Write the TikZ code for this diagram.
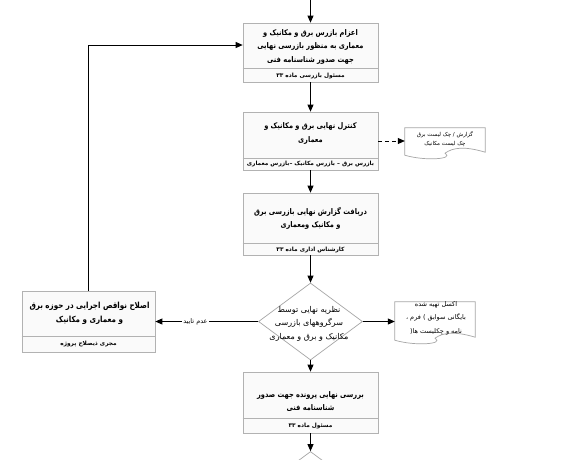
\documentclass[tikz,border=0pt]{standalone}
\usepackage{fontspec}
\usetikzlibrary{shapes.geometric,arrows.meta,calc}
\TeXXeTstate=1
\newfontfamily\fafont[Script=Arabic]{DejaVu Sans}
\newfontfamily\fanarrow[Script=Arabic, FakeStretch=0.85]{DejaVu Sans}
\newcommand\fal[1]{\beginR #1\endR}
\newcommand\ltrglyph[1]{\beginL #1\endL{}}
\begin{document}
\begin{tikzpicture}[x=1pt,y=-1pt,
  box/.style={draw=gray!60, fill=gray!4, line width=0.7pt, minimum width=135pt, inner sep=0pt},
  ttl/.style={font=\fanarrow\bfseries\fontsize{7.8}{13.5}\selectfont, align=center, inner sep=0pt},
  lbl/.style={font=\fafont\bfseries\fontsize{5.8}{7}\selectfont, inner sep=0pt},
  doclbl/.style={font=\fafont\fontsize{5.5}{8.4}\selectfont, align=center, inner sep=0pt},
  divider/.style={draw=gray!60, line width=0.7pt},
  arr/.style={-{Triangle[length=7pt,width=6pt]}, line width=0.8pt},
  docshape/.style={draw=gray!70, fill=white, line width=0.7pt},
  dia/.style={draw=gray!70, fill=white, line width=0.7pt, shape=diamond, minimum width=104pt, minimum height=77pt, inner sep=0pt}
]
\useasboundingbox (0,0) rectangle (567,459);
\clip (0,0) rectangle (567,459);
\fill[white] (0,0) rectangle (567,459);

% Box 1
\node[box, minimum height=59pt] (b1) at (310.5,52.5) {};
\draw[divider] (b1.west |- 0,68) -- (b1.east |- 0,68);
\node[ttl] (t1) at (310.5,46.5) {\fal{اعزام بازرس برق و مکانیک و}\\\fal{معماری به منظور بازرسی نهایی}\\\fal{جهت صدور شناسنامه فنی}};
\node[lbl] (l1) at (310.5,75.5) {\fal{مسئول بازرسی ماده ۳۳}};

% Box 2
\node[box, minimum height=58pt] (b2) at (310.5,141) {};
\draw[divider] (b2.west |- 0,158) -- (b2.east |- 0,158);
\node[ttl] (t2) at (310.5,133.5) {\fal{کنترل نهایی برق و مکانیک و}\\\fal{معماری}};
\node[lbl] (l2) at (310.5,164) {\fal{بازرس برق – بازرس مکانیک –بازرس معماری}};

% Document 1
\node[minimum width=80pt, minimum height=29pt, inner sep=0pt] (d1) at (445,142.5) {};
\draw[docshape] (d1.north west) -- (d1.north east) -- ($(d1.south east)+(0,-5)$)
  .. controls ($(d1.south east)+(-20,-11)$) and ($(d1.south east)+(-32,-10)$) .. ($(d1.south)+(0,-4)$)
  .. controls ($(d1.south)+(10,2)$) and ($(d1.south west)+(20,4)$) .. ($(d1.south west)+(0,-2)$) -- cycle;
\node[doclbl] (dt1) at (445,139) {\fal{گزارش / چک لیست برق}\\\fal{چک لیست مکانیک}};

% Box 3
\node[box, minimum height=62pt] (b3) at (310.5,224) {};
\draw[divider] (b3.west |- 0,243) -- (b3.east |- 0,243);
\node[ttl] (t3) at (310.5,218.5) {\fal{دریافت گزارش نهایی بازرسی برق}\\\fal{و مکانیک ومعماری}};
\node[lbl] (l3) at (310.5,249.5) {\fal{کارشناس اداری ماده ۳۳}};

% Decision
\node[dia] (dm) at (310.5,321.5) {};
\node[ttl, font=\fafont\fontsize{8}{13.5}\selectfont] (dmt) at (309,323.5) {\fal{نظریه نهایی توسط}\\\fal{سرگروههای بازرسی}\\\fal{مکانیک و برق و معماری}};

% Document 2
\node[minimum width=80pt, minimum height=40pt, inner sep=0pt] (d2) at (435,322) {};
\draw[docshape] (d2.north west) -- (d2.north east) -- ($(d2.south east)+(0,-5)$)
  .. controls ($(d2.south east)+(-20,-11)$) and ($(d2.south east)+(-32,-10)$) .. ($(d2.south)+(0,-4)$)
  .. controls ($(d2.south)+(10,2)$) and ($(d2.south west)+(20,4)$) .. ($(d2.south west)+(0,-2)$) -- cycle;
\node[doclbl, font=\fafont\fontsize{6.5}{13.5}\selectfont] (dt2) at (436,318) {\fal{اکسل تهیه شده}\\\fal{بایگانی سوابق \ltrglyph{)} فرم ،}\\\fal{نامه و چکلیست ها\ltrglyph{(}}};

% Left box
\node[box, minimum width=133pt, minimum height=61pt] (lb) at (88.5,321.5) {};
\draw[divider] (lb.west |- 0,336) -- (lb.east |- 0,336);
\node[ttl, font=\fanarrow\bfseries\fontsize{8.4}{13.5}\selectfont] (tl) at (89.5,313.5) {\fal{اصلاح نواقص اجرایی در حوزه برق}\\\fal{و معماری و مکانیک}};
\node[lbl] (ll) at (88.5,344) {\fal{مجری ذیصلاح پروژه}};

% Box 5
\node[box, minimum height=61pt] (b5) at (310.5,402.5) {};
\draw[divider] (b5.west |- 0,418) -- (b5.east |- 0,418);
\node[ttl] (t5) at (310.5,401.5) {\fal{بررسی نهایی پرونده جهت صدور}\\\fal{شناسنامه فنی}};
\node[lbl] (l5) at (310.5,426) {\fal{مسئول ماده ۳۳}};

% Next decision (cut off)
\node[dia] (dm2) at (310.5,490) {};

% Connectors
\coordinate (top) at (310.5,-2);
\coordinate (loopin) at (b1.west |- 0,45);
\draw[arr] (top) -- (b1.north);
\draw[arr] (b1.south) -- (b2.north);
\draw[arr] (b2.south) -- (b3.north);
\draw[arr] (b3.south) -- (dm.north);
\draw[arr] (dm.south) -- (b5.north);
\draw[arr] (b5.south) -- (dm2.north);
\draw[arr, dashed, dash pattern=on 4pt off 3pt] (b2.east) -- (b2.east -| d1.west);
\draw[arr] (dm.east) -- (dm.east -| d2.west);
\draw[arr] (dm.west) -- node[lbl, font=\fafont\fontsize{6.5}{7}\selectfont, fill=white, inner xsep=1pt, inner ysep=2pt, pos=0.61] (no) {\fal{عدم تایید}} (lb.east);
\draw[arr] (lb.north) |- (loopin);
\end{tikzpicture}
\end{document}
